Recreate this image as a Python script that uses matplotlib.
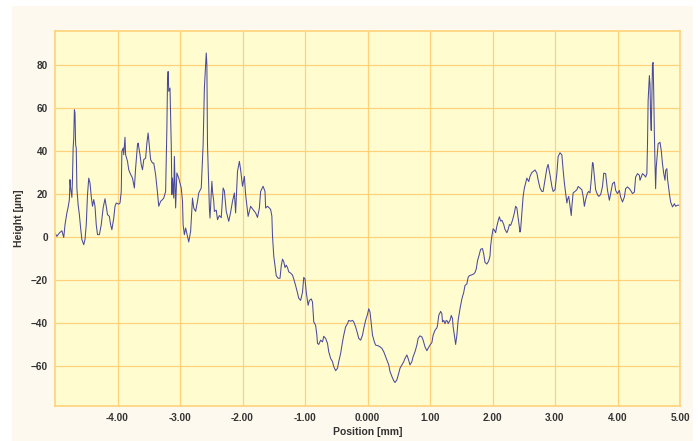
"""
Surface height profile along the scan line.
"""
import matplotlib.pyplot as plt
import matplotlib.patches as patches

# position [mm] and height [um] read along the profile
POSITION = [
    -5.00, -4.97, -4.93, -4.89, -4.86, -4.84, -4.81, -4.79, -4.77, -4.76,
    -4.75, -4.73, -4.72, -4.71, -4.70, -4.69, -4.68, -4.67, -4.66, -4.65,
    -4.63, -4.61, -4.59, -4.57, -4.54, -4.52, -4.50, -4.48, -4.46, -4.44,
    -4.42, -4.40, -4.38, -4.36, -4.34, -4.32, -4.29, -4.26, -4.23, -4.20,
    -4.18, -4.16, -4.13, -4.11, -4.09, -4.06, -4.04, -4.02, -3.98, -3.96,
    -3.94, -3.93, -3.91, -3.90, -3.88, -3.87, -3.84, -3.82, -3.80, -3.76,
    -3.73, -3.71, -3.68, -3.67, -3.64, -3.62, -3.60, -3.58, -3.55, -3.53,
    -3.51, -3.50, -3.47, -3.44, -3.42, -3.39, -3.36, -3.34, -3.31, -3.28,
    -3.26, -3.23, -3.21, -3.20, -3.19, -3.18, -3.16, -3.14, -3.13, -3.12,
    -3.10, -3.09, -3.07, -3.05, -3.02, -2.98, -2.96, -2.95, -2.93, -2.91,
    -2.88, -2.86, -2.83, -2.80, -2.78, -2.75, -2.72, -2.70, -2.66, -2.63,
    -2.61, -2.58, -2.57, -2.56, -2.54, -2.53, -2.52, -2.49, -2.48, -2.46,
    -2.45, -2.42, -2.40, -2.37, -2.34, -2.31, -2.29, -2.26, -2.22, -2.19,
    -2.16, -2.13, -2.11, -2.08, -2.05, -2.03, -2.00, -1.97, -1.95, -1.91,
    -1.87, -1.83, -1.79, -1.76, -1.73, -1.71, -1.67, -1.64, -1.63, -1.60,
    -1.57, -1.55, -1.53, -1.52, -1.50, -1.48, -1.46, -1.43, -1.40, -1.38,
    -1.36, -1.34, -1.32, -1.30, -1.28, -1.26, -1.23, -1.20, -1.18, -1.15,
    -1.12, -1.10, -1.07, -1.04, -1.02, -1.00, -0.98, -0.95, -0.93, -0.90,
    -0.88, -0.86, -0.83, -0.81, -0.80, -0.78, -0.75, -0.72, -0.70, -0.67,
    -0.64, -0.62, -0.59, -0.56, -0.54, -0.51, -0.48, -0.46, -0.43, -0.40,
    -0.38, -0.35, -0.32, -0.30, -0.27, -0.24, -0.22, -0.19, -0.16, -0.14,
    -0.11, -0.08, -0.06, -0.03, 0.00, 0.02, 0.04, 0.06, 0.08, 0.11,
    0.13, 0.17, 0.20, 0.23, 0.26, 0.28, 0.31, 0.34, 0.36, 0.39,
    0.42, 0.44, 0.47, 0.50, 0.52, 0.55, 0.58, 0.60, 0.63, 0.65,
    0.68, 0.71, 0.73, 0.76, 0.79, 0.81, 0.84, 0.87, 0.89, 0.92,
    0.95, 0.97, 1.00, 1.03, 1.05, 1.08, 1.11, 1.12, 1.14, 1.17,
    1.19, 1.20, 1.22, 1.24, 1.26, 1.28, 1.29, 1.32, 1.34, 1.36,
    1.37, 1.39, 1.41, 1.43, 1.45, 1.48, 1.51, 1.54, 1.56, 1.59,
    1.61, 1.63, 1.66, 1.70, 1.72, 1.74, 1.76, 1.79, 1.81, 1.84,
    1.86, 1.88, 1.91, 1.94, 1.96, 1.97, 1.99, 2.01, 2.03, 2.05,
    2.07, 2.10, 2.11, 2.13, 2.15, 2.18, 2.20, 2.23, 2.25, 2.27,
    2.29, 2.32, 2.35, 2.37, 2.39, 2.42, 2.44, 2.45, 2.47, 2.49,
    2.51, 2.53, 2.55, 2.58, 2.60, 2.63, 2.65, 2.68, 2.71, 2.73,
    2.76, 2.79, 2.81, 2.84, 2.87, 2.89, 2.92, 2.95, 2.97, 3.00,
    3.03, 3.05, 3.08, 3.11, 3.13, 3.15, 3.17, 3.19, 3.20, 3.22,
    3.24, 3.26, 3.27, 3.29, 3.32, 3.35, 3.37, 3.40, 3.43, 3.45,
    3.47, 3.49, 3.52, 3.54, 3.56, 3.58, 3.60, 3.61, 3.63, 3.65,
    3.68, 3.70, 3.73, 3.76, 3.78, 3.81, 3.84, 3.87, 3.89, 3.92,
    3.95, 3.97, 4.00, 4.03, 4.05, 4.08, 4.11, 4.13, 4.16, 4.19,
    4.21, 4.24, 4.27, 4.29, 4.32, 4.35, 4.36, 4.38, 4.40, 4.43,
    4.45, 4.47, 4.48, 4.49, 4.51, 4.52, 4.53, 4.54, 4.55, 4.56,
    4.57, 4.58, 4.59, 4.60, 4.61, 4.62, 4.64, 4.65, 4.68, 4.70,
    4.72, 4.74, 4.76, 4.77, 4.79, 4.80, 4.83, 4.85, 4.88, 4.91,
    4.93, 4.96, 5.00,
]
HEIGHT = [
    1.9, 0.3, 1.9, 2.9, -0.2, 5.7, 11.2, 13.8, 17.4, 26.7,
    22.8, 18.4, 27.5, 41.4, 46.0, 59.2, 57.7, 42.9, 41.4, 22.8,
    15.0, 10.4, 4.2, -1.2, -3.6, -1.2, 5.7, 19.7, 27.4, 25.1,
    18.9, 14.3, 17.4, 14.3, 5.7, 1.1, 1.1, 5.7, 13.5, 17.8,
    14.3, 10.4, 9.6, 5.7, 3.4, 8.8, 14.3, 15.8, 15.3, 15.8,
    21.2, 39.8, 41.4, 38.3, 46.4, 38.3, 35.2, 31.3, 29.8, 27.4,
    22.8, 32.1, 42.9, 43.7, 38.3, 33.6, 31.3, 36.0, 36.7, 43.7,
    48.4, 45.3, 36.0, 34.4, 34.4, 29.0, 20.5, 14.3, 16.6, 17.4,
    18.1, 21.2, 50.7, 72.4, 77.0, 67.8, 69.3, 42.9, 19.7, 27.4,
    18.1, 37.5, 13.5, 29.8, 27.4, 22.8, 16.6, 5.7, 1.1, 4.2,
    0.3, -2.3, 2.6, 18.1, 13.5, 11.9, 16.6, 20.5, 22.8, 42.9,
    69.3, 85.6, 80.2, 42.9, 24.3, 13.5, 8.8, 25.9, 21.2, 16.6,
    11.9, 12.5, 8.1, 10.0, 9.0, 22.8, 21.5, 11.9, 7.3, 11.5,
    16.6, 20.5, 11.2, 30.5, 35.2, 31.3, 23.6, 28.2, 19.7, 9.6,
    14.3, 12.7, 11.2, 9.1, 13.5, 21.2, 23.6, 21.2, 13.5, 14.3,
    13.5, 12.8, 9.7, 0.5, -8.8, -13.4, -18.0, -19.2, -19.2, -13.4,
    -10.3, -11.5, -14.2, -13.1, -14.2, -16.2, -16.8, -17.7, -19.5, -22.6,
    -26.0, -28.5, -29.5, -25.7, -18.8, -19.5, -25.7, -31.8, -29.5, -28.8,
    -30.3, -39.5, -41.1, -45.7, -49.5, -50.0, -48.0, -48.8, -46.2, -47.2,
    -49.5, -53.4, -56.5, -58.0, -60.3, -62.2, -61.1, -58.0, -54.2, -48.8,
    -45.7, -41.8, -40.3, -38.8, -39.2, -38.8, -39.5, -41.8, -44.9, -47.2,
    -48.0, -45.7, -42.6, -38.8, -36.0, -33.4, -34.9, -40.3, -45.7, -48.8,
    -50.3, -50.6, -51.1, -51.8, -53.4, -54.9, -57.2, -59.5, -62.6, -64.9,
    -66.9, -67.7, -66.5, -63.4, -61.1, -59.5, -58.0, -56.5, -54.9, -56.5,
    -59.5, -58.0, -55.7, -53.4, -50.3, -47.2, -46.0, -46.5, -48.0, -51.1,
    -52.9, -51.8, -50.3, -49.1, -45.7, -43.4, -42.3, -41.1, -36.5, -34.6,
    -35.7, -39.5, -38.8, -40.3, -38.8, -39.2, -40.3, -38.8, -36.5, -38.0,
    -41.8, -45.7, -50.0, -45.7, -38.8, -33.4, -28.8, -25.7, -22.6, -21.8,
    -18.8, -18.0, -17.7, -17.2, -16.5, -14.9, -11.1, -8.0, -5.7, -5.4,
    -8.0, -11.8, -12.6, -11.1, -8.8, -4.2, 0.5, 3.8, 3.2, 2.0,
    5.1, 8.5, 9.4, 7.4, 7.8, 5.8, 3.5, 2.0, 3.5, 5.8,
    5.4, 7.8, 11.2, 14.3, 13.5, 6.6, 2.3, 3.5, 11.2, 18.9,
    22.8, 25.1, 27.4, 25.8, 28.2, 30.0, 30.5, 31.2, 29.7, 26.6,
    22.8, 21.2, 21.2, 26.6, 32.0, 33.8, 28.9, 23.5, 21.2, 22.0,
    29.7, 37.4, 39.2, 38.2, 31.2, 25.1, 20.5, 15.8, 17.4, 18.9,
    14.3, 10.0, 14.3, 20.5, 21.2, 22.0, 23.5, 22.8, 22.0, 18.9,
    14.3, 17.4, 20.5, 21.2, 20.5, 26.6, 34.6, 34.3, 28.2, 22.0,
    19.7, 18.9, 19.7, 23.5, 29.7, 29.5, 21.7, 17.1, 20.2, 24.8,
    25.6, 21.7, 20.2, 21.7, 18.6, 16.3, 18.6, 22.5, 23.3, 22.5,
    21.7, 20.2, 20.9, 27.9, 29.5, 28.7, 26.4, 27.9, 29.5, 28.7,
    27.9, 29.5, 43.4, 63.5, 75.1, 71.2, 55.7, 49.6, 65.0, 80.5,
    81.2, 66.6, 48.0, 34.0, 22.5, 32.5, 40.2, 43.4, 44.1, 40.2,
    34.0, 29.5, 26.4, 31.0, 31.8, 27.2, 20.2, 16.3, 14.0, 15.5,
    14.3, 14.8, 14.8,
]

X_TICKS = [-4, -3, -2, -1, 0, 1, 2, 3, 4, 5]
X_LABELS = ["-4.00", "-3.00", "-2.00", "-1.00", "0.000",
            "1.00", "2.00", "3.00", "4.00", "5.00"]
Y_TICKS = [-60, -40, -20, 0, 20, 40, 60, 80]

GRID = "#ffd27a"
PLOT_BG = "#fffdd0"
PANEL_BG = "#fdf9ee"
LINE = "#4a4a9c"
TEXT = "#333333"

plt.rcParams['font.family'] = ['Liberation Sans', 'DejaVu Sans']

fig = plt.figure(figsize=(7.0, 4.41), dpi=100)
fig.patch.set_facecolor("white")
# cream panel behind the chart
fig.patches.append(patches.Rectangle((12 / 700, 0), 681 / 700, 435 / 441,
                                     transform=fig.transFigure,
                                     facecolor=PANEL_BG, edgecolor="none",
                                     zorder=-10))

ax = fig.add_axes([55 / 700, 1 - 405.7 / 441, 625 / 700, 375 / 441])
ax.set_facecolor(PLOT_BG)
ax.plot(POSITION, HEIGHT, color=LINE, linewidth=0.75)

ax.set_xlim(-5, 5)
ax.set_ylim(-78.5, 96)
ax.set_xticks(X_TICKS)
ax.set_xticklabels(X_LABELS)
ax.set_yticks(Y_TICKS)
ax.grid(True, color=GRID, linewidth=0.9)
ax.set_axisbelow(True)
ax.tick_params(length=0, labelsize=7.2, labelcolor=TEXT, pad=5)
for lbl in ax.get_xticklabels() + ax.get_yticklabels():
    lbl.set_fontweight("bold")
for sp in ax.spines.values():
    sp.set_color(GRID)
    sp.set_linewidth(1.2)

ax.set_xlabel("Position [mm]", fontsize=7.5, fontweight="bold", color=TEXT,
              labelpad=3)
ax.set_ylabel("Height [µm]", fontsize=7.5, fontweight="bold", color=TEXT,
              labelpad=5)

fig.savefig("out.png", dpi=100, facecolor=fig.get_facecolor())
